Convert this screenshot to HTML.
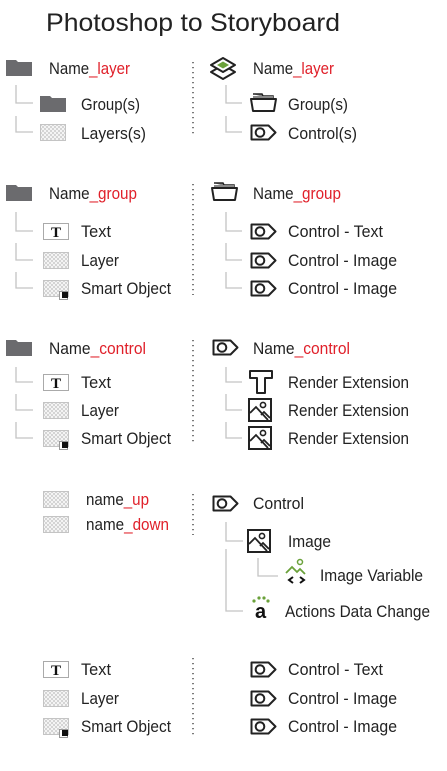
<!DOCTYPE html>
<html><head><meta charset="utf-8"><style>
html,body{margin:0;padding:0;background:#fff;width:447px;height:771px;overflow:hidden}
svg text{font-family:"Liberation Sans Narrow","Liberation Sans",sans-serif;font-size:17px;fill:#222}
.r{fill:#e0202a}
</style></head><body>
<svg width="447" height="771" viewBox="0 0 447 771" xmlns="http://www.w3.org/2000/svg">
<defs>
<pattern id="ck" width="4" height="4" patternUnits="userSpaceOnUse"><rect width="4" height="4" fill="#f4f4f4"/><rect width="2" height="2" fill="#d4d4d4"/><rect x="2" y="2" width="2" height="2" fill="#d4d4d4"/></pattern>
<g id="folder"><path d="M0,1 h10 l2,2 h14 v14 h-26z" fill="#6b6b6e"/></g>
<g id="check"><rect x="0.5" y="0.5" width="25" height="16" fill="url(#ck)" stroke="#c4c4c4"/></g>
<g id="smart"><rect x="0.5" y="0.5" width="25" height="16" fill="url(#ck)" stroke="#c4c4c4"/><rect x="16.5" y="11.5" width="8" height="8" fill="#fff" stroke="#999"/><rect x="19" y="12" width="6" height="6" fill="#111"/></g>
<g id="ttxt"><rect x="0.5" y="0.5" width="25" height="16" fill="#fff" stroke="#aaa"/><text x="13" y="14" text-anchor="middle" style="font-family:'Liberation Serif',serif;font-weight:bold;font-size:15px;fill:#111">T</text></g>
<g id="tag"><path d="M1.5,1.5 h17 l7,7 l-7,7 h-17z" fill="none" stroke="#222" stroke-width="2" stroke-linejoin="round"/><circle cx="10" cy="8.5" r="4.3" fill="none" stroke="#222" stroke-width="2"/></g>
<g id="ofolder"><path d="M3,1 h9 l1,2 h10 v4" fill="#888" stroke="#222" stroke-width="1.5"/><path d="M3,3 h20 v4 h-20z" fill="#888"/><path d="M1,6 h25 l-2,12 h-21z" fill="#fff" stroke="#222" stroke-width="2" stroke-linejoin="round"/></g>
<g id="layers"><path d="M14,9 l12,7 l-12,7 l-12,-7z" fill="#fff" stroke="#222" stroke-width="2" stroke-linejoin="round"/><path d="M14,2 l12,7 l-12,7 l-12,-7z" fill="#fff" stroke="#222" stroke-width="2" stroke-linejoin="round"/><path d="M14,5.5 l6,3.5 l-6,3.5 l-6,-3.5z" fill="#6aa13a"/></g>
<g id="img"><rect x="1" y="1" width="22" height="22" fill="#fff" stroke="#222" stroke-width="2"/><path d="M2,15 l6,-6 l12,13" fill="none" stroke="#222" stroke-width="1.8"/><path d="M13,17 l3,-3 l6,6" fill="none" stroke="#222" stroke-width="1.8"/><circle cx="15" cy="7" r="2.6" fill="none" stroke="#222" stroke-width="1.6"/></g>
<g id="tout"><path d="M1,1 h22 v7 h-7 v15 h-8 v-15 h-7z" fill="#fff" stroke="#222" stroke-width="2" stroke-linejoin="round"/></g>
</defs>

<text x="46" y="31" style="font-family:'Liberation Sans',sans-serif;font-size:25px;fill:#222" textLength="294" lengthAdjust="spacingAndGlyphs">Photoshop to Storyboard</text>

<g stroke="#c4c4c4" stroke-width="1.3" fill="none">
<!-- left section 1 -->
<path d="M16,85 V103 H33 M16,116 V132 H33"/>
<path d="M16,212 V231 H33 M16,243 V260 H33 M16,272 V288 H33"/>
<path d="M16,367 V382 H33 M16,394 V410 H33 M16,422 V438 H33"/>
<!-- right -->
<path d="M226,85 V103 H242 M226,116 V132 H242"/>
<path d="M226,212 V231 H242 M226,243 V260 H242 M226,272 V288 H242"/>
<path d="M226,367 V382 H242 M226,394 V410 H242 M226,422 V438 H242"/>
<path d="M226,522 V541 H243 M226,549 V611 H243 M258,558 V576 H278"/>
</g>
<g stroke="#333" stroke-width="1.3" stroke-dasharray="1.3 3.7" fill="none">
<path d="M193,62 V135 M193,184 V295 M193,340 V445 M193,494 V535 M193,658 V735"/>
</g>

<!-- Section 1 -->
<use href="#folder" x="6" y="59"/>
<text x="49" y="74" textLength="81" lengthAdjust="spacingAndGlyphs">Name<tspan class="r">_layer</tspan></text>
<use href="#folder" x="40" y="95"/>
<text x="81" y="110" textLength="59" lengthAdjust="spacingAndGlyphs">Group(s)</text>
<use href="#check" x="40" y="124"/>
<text x="81" y="139" textLength="65" lengthAdjust="spacingAndGlyphs">Layers(s)</text>

<use href="#layers" x="209" y="56"/>
<text x="253" y="74" textLength="81" lengthAdjust="spacingAndGlyphs">Name<tspan class="r">_layer</tspan></text>
<use href="#ofolder" x="250" y="93"/>
<text x="288" y="110" textLength="60" lengthAdjust="spacingAndGlyphs">Group(s)</text>
<use href="#tag" x="250" y="124"/>
<text x="288" y="139" textLength="69" lengthAdjust="spacingAndGlyphs">Control(s)</text>

<!-- Section 2 -->
<use href="#folder" x="6" y="184"/>
<text x="49" y="199" textLength="88" lengthAdjust="spacingAndGlyphs">Name<tspan class="r">_group</tspan></text>
<use href="#ttxt" x="43" y="223"/>
<text x="81" y="237" textLength="30" lengthAdjust="spacingAndGlyphs">Text</text>
<use href="#check" x="43" y="252"/>
<text x="81" y="266" textLength="38" lengthAdjust="spacingAndGlyphs">Layer</text>
<use href="#smart" x="43" y="280"/>
<text x="81" y="294" textLength="90" lengthAdjust="spacingAndGlyphs">Smart Object</text>

<use href="#ofolder" x="211" y="182"/>
<text x="253" y="199" textLength="88" lengthAdjust="spacingAndGlyphs">Name<tspan class="r">_group</tspan></text>
<use href="#tag" x="250" y="223"/>
<text x="288" y="237" textLength="95" lengthAdjust="spacingAndGlyphs">Control - Text</text>
<use href="#tag" x="250" y="252"/>
<text x="288" y="266" textLength="109" lengthAdjust="spacingAndGlyphs">Control - Image</text>
<use href="#tag" x="250" y="280"/>
<text x="288" y="294" textLength="109" lengthAdjust="spacingAndGlyphs">Control - Image</text>

<!-- Section 3 -->
<use href="#folder" x="6" y="339"/>
<text x="49" y="354" textLength="97" lengthAdjust="spacingAndGlyphs">Name<tspan class="r">_control</tspan></text>
<use href="#ttxt" x="43" y="374"/>
<text x="81" y="388" textLength="30" lengthAdjust="spacingAndGlyphs">Text</text>
<use href="#check" x="43" y="402"/>
<text x="81" y="416" textLength="38" lengthAdjust="spacingAndGlyphs">Layer</text>
<use href="#smart" x="43" y="430"/>
<text x="81" y="444" textLength="90" lengthAdjust="spacingAndGlyphs">Smart Object</text>

<use href="#tag" x="212" y="339"/>
<text x="253" y="354" textLength="97" lengthAdjust="spacingAndGlyphs">Name<tspan class="r">_control</tspan></text>
<use href="#tout" x="249" y="370"/>
<text x="288" y="388" textLength="121" lengthAdjust="spacingAndGlyphs">Render Extension</text>
<use href="#img" x="248" y="398"/>
<text x="288" y="416" textLength="121" lengthAdjust="spacingAndGlyphs">Render Extension</text>
<use href="#img" x="248" y="426"/>
<text x="288" y="444" textLength="121" lengthAdjust="spacingAndGlyphs">Render Extension</text>

<!-- Section 4 -->
<use href="#check" x="43" y="491"/>
<text x="86" y="505" textLength="63" lengthAdjust="spacingAndGlyphs">name<tspan class="r">_up</tspan></text>
<use href="#check" x="43" y="516"/>
<text x="86" y="530" textLength="83" lengthAdjust="spacingAndGlyphs">name<tspan class="r">_down</tspan></text>

<use href="#tag" x="212" y="495"/>
<text x="253" y="509" textLength="51" lengthAdjust="spacingAndGlyphs">Control</text>
<use href="#img" x="247" y="529"/>
<text x="288" y="547" textLength="43" lengthAdjust="spacingAndGlyphs">Image</text>
<g>
<path d="M286,573 l6,-6 l5,5 l3,-3 l5,5" fill="none" stroke="#6aa13a" stroke-width="1.8"/>
<circle cx="300" cy="562" r="2.5" fill="none" stroke="#6aa13a" stroke-width="1.5"/>
<path d="M293,577 l-4,3 l4,3 M300,577 l4,3 l-4,3" fill="none" stroke="#111" stroke-width="2"/>
</g>
<text x="320" y="581" textLength="103" lengthAdjust="spacingAndGlyphs">Image Variable</text>
<g fill="#6aa13a"><circle cx="254" cy="601" r="1.6"/><circle cx="259" cy="598" r="1.6"/><circle cx="264" cy="598" r="1.6"/><circle cx="268" cy="601" r="1.6"/></g>
<text x="255" y="618" style="font-family:'Liberation Sans',sans-serif;font-size:20px;font-weight:bold;fill:#111">a</text>
<text x="285" y="617" textLength="145" lengthAdjust="spacingAndGlyphs">Actions Data Change</text>

<!-- Section 5 -->
<use href="#ttxt" x="43" y="661"/>
<text x="81" y="675" textLength="30" lengthAdjust="spacingAndGlyphs">Text</text>
<use href="#check" x="43" y="690"/>
<text x="81" y="704" textLength="38" lengthAdjust="spacingAndGlyphs">Layer</text>
<use href="#smart" x="43" y="718"/>
<text x="81" y="732" textLength="90" lengthAdjust="spacingAndGlyphs">Smart Object</text>

<use href="#tag" x="250" y="661"/>
<text x="288" y="675" textLength="95" lengthAdjust="spacingAndGlyphs">Control - Text</text>
<use href="#tag" x="250" y="690"/>
<text x="288" y="704" textLength="109" lengthAdjust="spacingAndGlyphs">Control - Image</text>
<use href="#tag" x="250" y="718"/>
<text x="288" y="732" textLength="109" lengthAdjust="spacingAndGlyphs">Control - Image</text>
</svg>
</body></html>
